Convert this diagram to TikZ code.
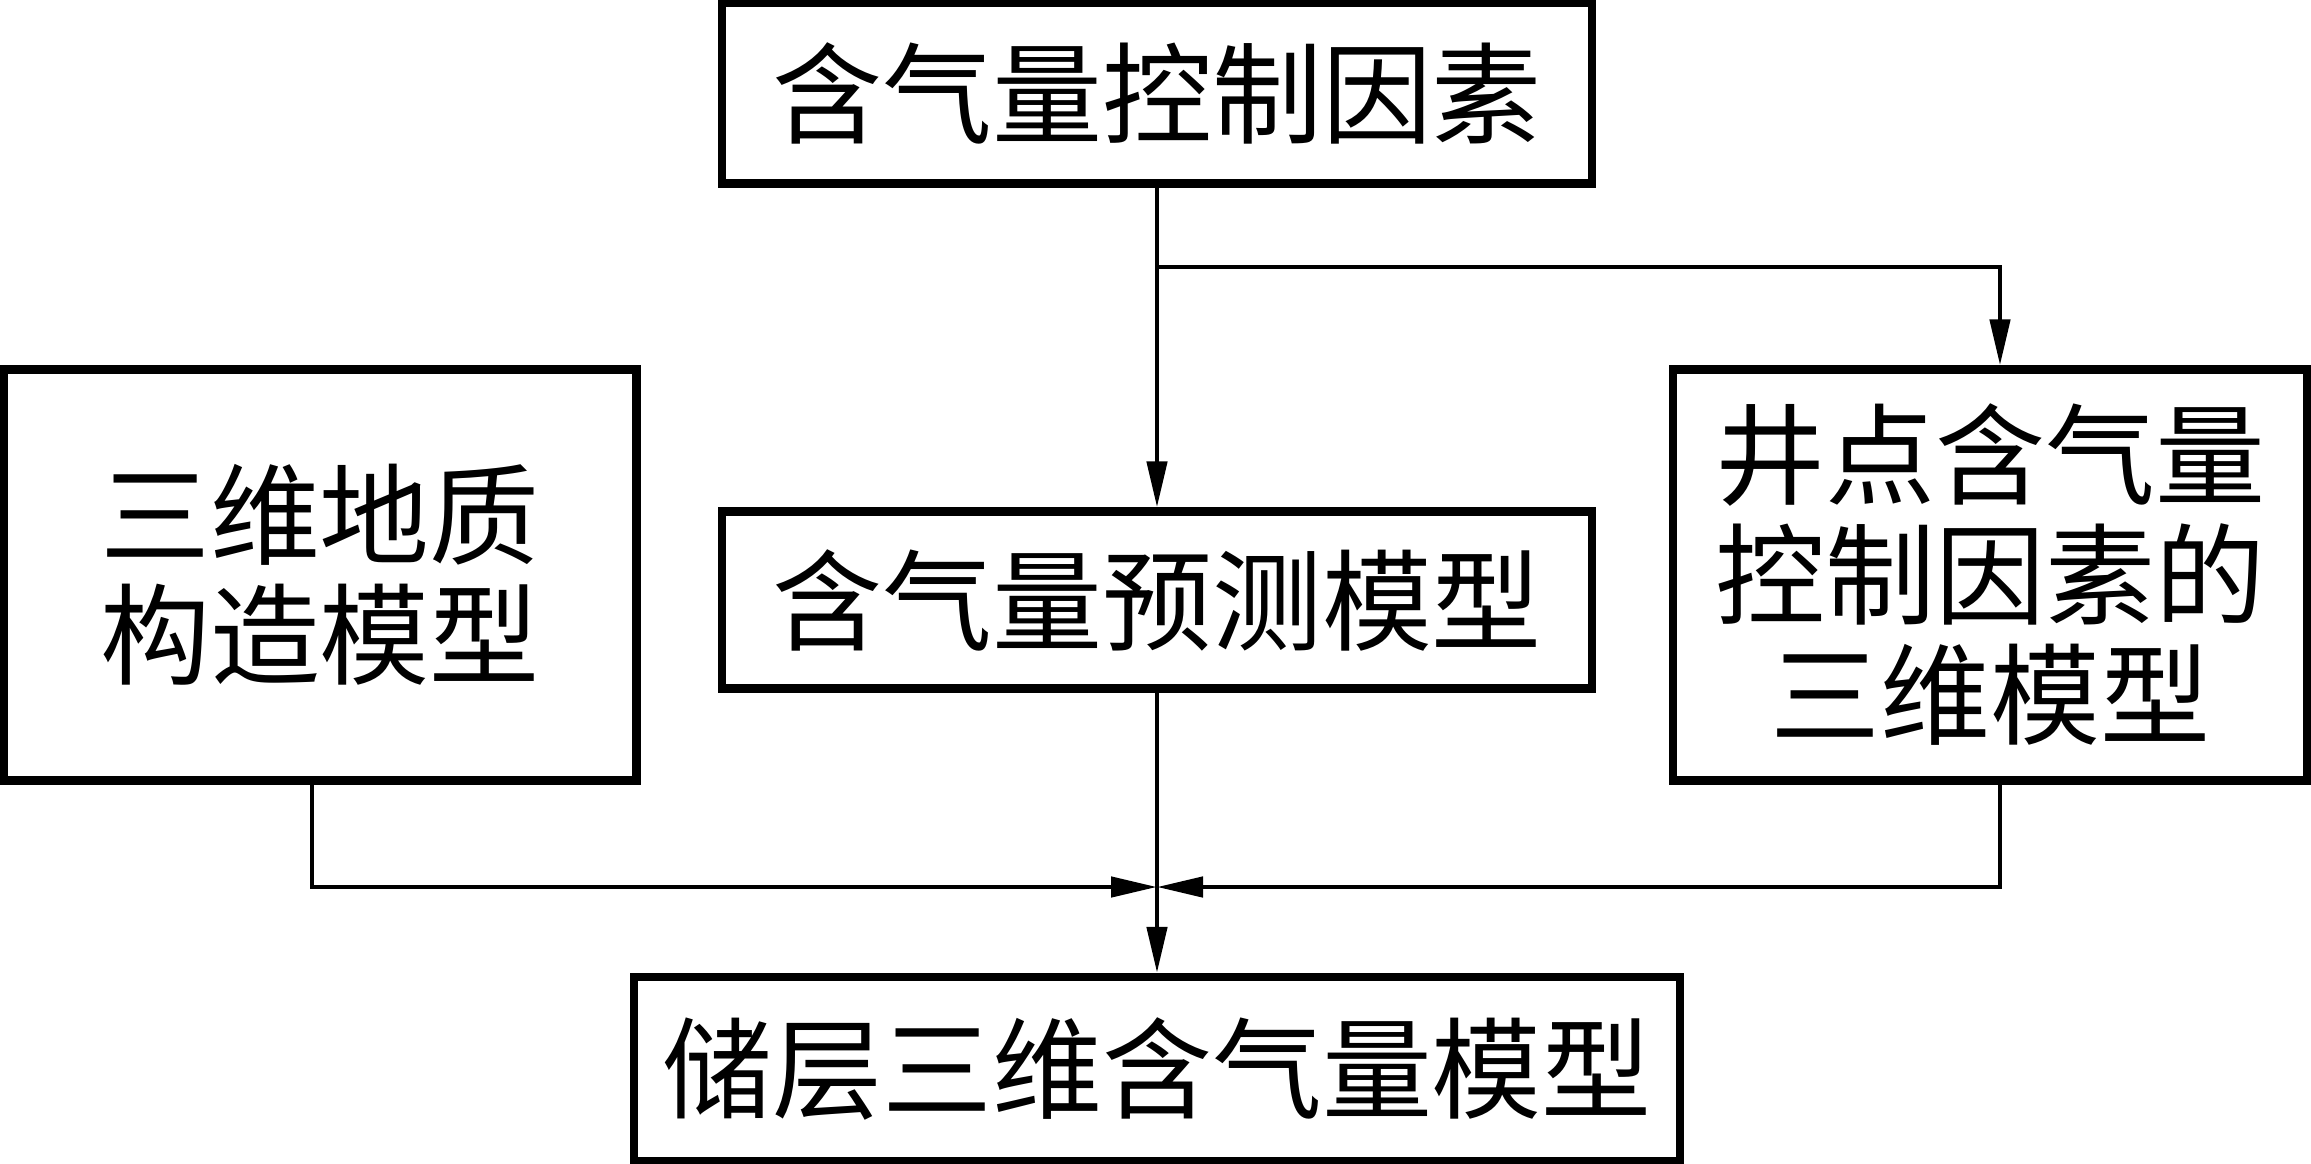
\documentclass[tikz,border=0pt]{standalone}
\usepackage{fontspec}
\setmainfont{Noto Sans CJK SC}
\usetikzlibrary{arrows.meta}
\begin{document}
\begin{tikzpicture}[x=0.3pt,y=-0.3pt,
  box/.style={draw,line width=2.5pt,inner sep=0pt,align=center,
    font=\fontsize{33}{36}\selectfont},
  conn/.style={line width=1.4pt},
  arr/.style={conn,-{Triangle[length=13.8pt,width=6pt]}}]
\useasboundingbox (0,0) rectangle (2311,1164);
\node[box,minimum width=870*0.3pt,minimum height=181*0.3pt] (top) at (1157,93) {含气量控制因素};
\node[box,minimum width=633*0.3pt,minimum height=411*0.3pt] (left) at (320,575) {三维地质\\构造模型};
\node[box,minimum width=870*0.3pt,minimum height=177*0.3pt] (mid) at (1157,600) {含气量预测模型};
\node[box,minimum width=634*0.3pt,minimum height=411*0.3pt] (right) at (1990,575) {井点含气量\\控制因素的\\三维模型};
\node[box,minimum width=1046*0.3pt,minimum height=184*0.3pt] (bot) at (1157,1069) {储层三维含气量模型};
\coordinate (br) at (1157,267);
\coordinate (j) at (1157,887);
\draw[arr] (top.south) -- (mid.north);
\draw[arr] (br) -| (right.north -| 2000,0);
\draw[arr] (left.south -| 312,0) |- (j);
\draw[arr] (right.south -| 2000,0) |- (j);
\draw[arr] (mid.south) -- (bot.north);
\end{tikzpicture}
\end{document}
